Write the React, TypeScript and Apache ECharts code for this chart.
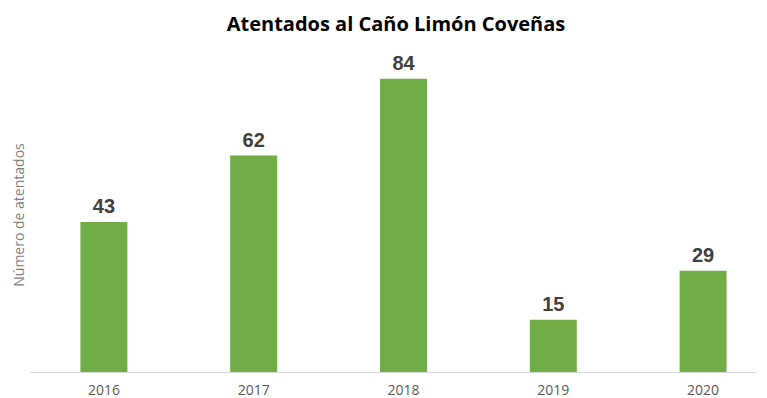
import React, { useEffect, useRef } from "react";
import * as echarts from "echarts";

const categories = ["2016", "2017", "2018", "2019", "2020"];
const values = [43, 62, 84, 15, 29];
const titleText = "Atentados al Caño Limón Coveñas";
const yAxisName = "Número de atentados";

export default function App() {
  const ref = useRef<HTMLDivElement>(null);
  useEffect(() => {
    document.body.style.margin = "0";
    document.body.style.overflow = "hidden";
    if (!ref.current) return;
    const chart = echarts.init(ref.current, undefined, { renderer: "svg" });
    chart.setOption({
      animation: false,
      backgroundColor: "#ffffff",
      title: {
        text: titleText,
        left: 391,
        textAlign: "center",
        top: 8,
        textStyle: {
          fontFamily: "Open Sans",
          fontWeight: "bold",
          fontSize: 20,
          color: "#000000",
        },
      },
      grid: { left: 29, right: 2, top: 23, bottom: 26 },
      graphic: [
        {
          type: "text",
          x: 18,
          y: 215,
          rotation: Math.PI / 2,
          style: {
            text: yAxisName,
            fill: "#7f7f7f",
            fontFamily: "Open Sans",
            fontSize: 14,
            textAlign: "center",
            textVerticalAlign: "middle",
          },
        },
        {
          type: "line",
          shape: { x1: 30, y1: 372.5, x2: 757, y2: 372.5 },
          style: { stroke: "#d9d9d9", lineWidth: 1 },
        },
      ],
      xAxis: {
        type: "category",
        data: categories,
        axisLine: { show: false },
        axisTick: { show: false },
        axisLabel: {
          color: "#595959",
          fontFamily: "Open Sans",
          fontSize: 14,
          margin: 10,
        },
      },
      yAxis: {
        type: "value",
        min: 0,
        max: 100,
        axisLine: { show: false },
        axisTick: { show: false },
        axisLabel: { show: false },
        splitLine: { show: false },
      },
      series: [
        {
          type: "bar",
          data: values,
          barWidth: 47,
          itemStyle: { color: "#70ad47" },
          label: {
            show: true,
            position: "top",
            distance: 6,
            color: "#404040",
            fontFamily: "Liberation Sans",
            fontWeight: "bold",
            fontSize: 20,
          },
        },
      ],
    });
    return () => chart.dispose();
  }, []);
  return <div ref={ref} style={{ width: 780, height: 398 }} />;
}
